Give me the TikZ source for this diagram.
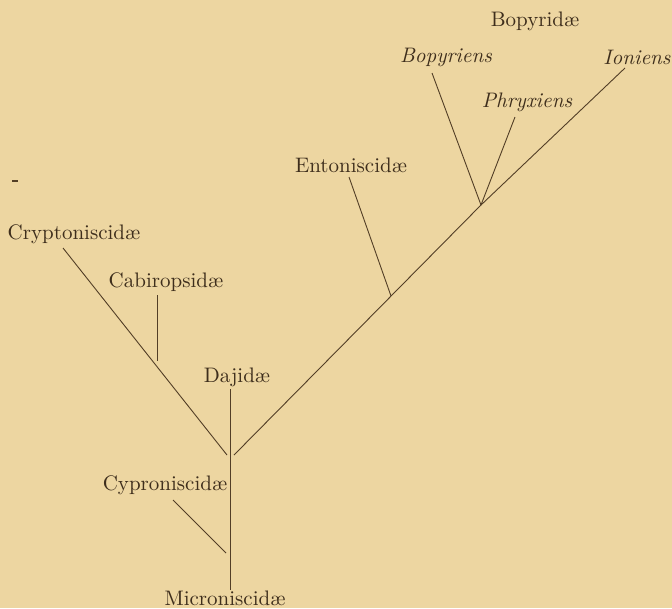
\documentclass[tikz,border=0pt]{standalone}
\usepackage{fontspec}
\newfontfamily\labfont{lmroman10-regular.otf}[ItalicFont=lmroman10-italic.otf]
\usepackage{tikz}
\usetikzlibrary{positioning,calc}
\usepackage{xcolor}
\definecolor{paper}{RGB}{237,214,161}
\definecolor{ink}{RGB}{82,62,38}
\definecolor{print}{RGB}{62,46,28}
\tikzset{
  lbl/.style={inner sep=0pt, text=print, font=\labfont\fontsize{21}{25}\selectfont},
  ilbl/.style={lbl, font=\labfont\fontsize{21}{25}\selectfont\itshape},
  twig/.style={draw=ink, line width=0.9pt},
}
\begin{document}
\begin{tikzpicture}[x=1pt, y=-1pt]
    \fill[paper] (0,0) rectangle (672,608);
    \useasboundingbox (0,0) rectangle (672,608);
    % labels
    \node[lbl]  (bopy)  at (535,21)  {Bopyrid\ae};
    \node[ilbl] (bopr)  at (446,57)  {Bopyriens};
    \node[ilbl] (ion)   at (637,57)  {Ioniens};
    \node[ilbl] (phr)   at (527,102) {Phryxiens};
    \node[lbl]  (ento)  at (351,165) {Entoniscid\ae};
    \node[lbl]  (crypt) at (74,234)  {Cryptoniscid\ae};
    \node[lbl]  (cab)   at (166,282) {Cabiropsid\ae};
    \node[lbl]  (daj)   at (237,377) {Dajid\ae};
    \node[lbl]  (cyp)   at (165,485) {Cyproniscid\ae};
    \node[lbl]  (micro) at (225,598) {Microniscid\ae};
    % twig ends and forks
    \coordinate (bopr-t)  at (432,73);
    \coordinate (ion-t)   at (625,68);
    \coordinate (phr-t)   at (515,117);
    \coordinate (ento-t)  at (349,177);
    \coordinate (crypt-t) at (63,248);
    \coordinate (cab-t)   at (157,295);
    \coordinate (daj-t)   at (230,389);
    \coordinate (cyp-t)   at (173,500);
    \coordinate (micro-t) at (230,590);
    \coordinate (bopyJ)   at (481,205);
    \coordinate (entoJ)   at (391,296);
    \coordinate (cabJ)    at (157,361);
    \coordinate (baseL)   at (227,455);
    \coordinate (baseR)   at (234,455);
    \coordinate (cypJ)    at (226,553);
    % branches
    \draw[twig] (daj-t) -- (micro-t);
    \draw[twig] (crypt-t) -- (baseL); \draw[twig] (cab-t) -- (cabJ);
    \draw[twig] (cyp-t) -- (cypJ);
    \draw[twig] (baseR) -- (bopyJ); \draw[twig] (ento-t) -- (entoJ);
    \draw[twig] (bopr-t) -- (bopyJ); \draw[twig] (phr-t) -- (bopyJ);
    \draw[twig] (ion-t) -- (bopyJ);
    \draw[ink, line width=1.2pt] (12,181) -- (18,181);
  \end{tikzpicture}
\end{document}
